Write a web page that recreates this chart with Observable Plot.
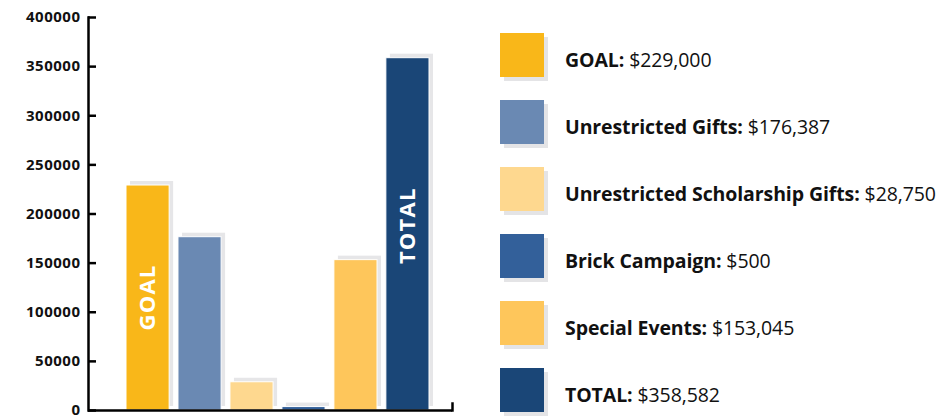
<!DOCTYPE html>
<html><head><meta charset="utf-8">
<script src="https://cdn.jsdelivr.net/npm/d3@7"></script>
<script src="https://cdn.jsdelivr.net/npm/@observablehq/plot@0.6"></script>
<style>
body{margin:0;background:#fff;font-family:"Open Sans",sans-serif;}
#wrap{position:relative;width:950px;height:417px;overflow:hidden;}
#chart{position:absolute;left:0;top:0;}
#legend{position:absolute;left:500px;top:33px;}
.row{position:relative;height:67px;}
.sw{position:absolute;left:0;top:0;width:44px;height:44px;box-shadow:4px 4px 0 #e4e4e6;}
.lt{position:absolute;left:65px;top:14px;white-space:nowrap;font-size:19.5px;line-height:26px;color:#111;letter-spacing:-0.1px;}
.lt b{font-weight:700;}
svg .ylab text{font-size:15px;font-weight:700;letter-spacing:0.5px;}
</style></head>
<body><div id="wrap"><div id="chart"></div><div id="legend"></div></div>
<script>
const categories = ["GOAL","Unrestricted Gifts","Unrestricted Scholarship Gifts","Brick Campaign","Special Events","TOTAL"];
const amounts = [229000,176387,28750,500,153045,358582];
// bar heights as drawn in the picture (brick bar shown at a visible minimum)
const barValues = [229000,176387,28750,3500,153045,358582];
const colors = ["#F9B719","#6A89B3","#FED88F","#33609A","#FEC65B","#1A4677"];
const barLabels = ["GOAL","","","","","TOTAL"];
const labelPos = [115000,0,0,0,0,188000];
const yTicks = [0,50000,100000,150000,200000,250000,300000,350000,400000];

const data = categories.map((c,i)=>({name:c, amount:amounts[i], bar:barValues[i], color:colors[i], label:barLabels[i], ly:labelPos[i]}));

const chart = Plot.plot({
  width: 460, height: 417,
  marginLeft: 88, marginRight: 8, marginTop: 17, marginBottom: 7,
  style: {fontFamily: "Open Sans, sans-serif", background: "transparent"},
  x: {domain: categories, range: [126, 429], paddingInner: 0.17, paddingOuter: 0, round: false, axis: null},
  y: {domain: [0, 400000], axis: null},
  marks: [
    Plot.barY(data, {x: "name", y: "bar", fill: "#e6e6e8", dx: 4, dy: -4}),
    Plot.barY(data, {x: "name", y: "bar", fill: "color", stroke: "white", strokeWidth: 1}),
    Plot.text(data.filter(d=>d.label), {x: "name", y: "ly", text: "label", rotate: -90, fill: "white", fontWeight: 700, fontSize: 22, className: "barlabel"}),
    Plot.axisY({ticks: yTicks, tickSize: 0, tickPadding: 8, tickFormat: d3.format("d"), fontWeight: 700, fontSize: 15, fill: "#111", className: "ylab"}),
    Plot.axisY({ticks: yTicks, tickSize: 8, dx: 8, tickFormat: () => "", stroke: "#000", strokeWidth: 2.5}),
    Plot.frame({anchor: "left", stroke: "#000", strokeWidth: 2.5}),
    Plot.frame({anchor: "right", stroke: "#000", strokeWidth: 2.5, insetTop: 386}),
    Plot.ruleY([0], {stroke: "#000", strokeWidth: 2.5})
  ]
});
chart.querySelectorAll(".barlabel text").forEach(t => t.setAttribute("letter-spacing", "1.2"));
document.getElementById("chart").appendChild(chart);

const fmt = d3.format("$,");
const legend = d3.select("#legend");
data.forEach(d => {
  const row = legend.append("div").attr("class","row");
  row.append("div").attr("class","sw").style("background", d.color);
  const t = row.append("div").attr("class","lt");
  t.append("b").text(d.name + ":");
  t.append("span").text(" " + fmt(d.amount));
});
</script></body></html>
